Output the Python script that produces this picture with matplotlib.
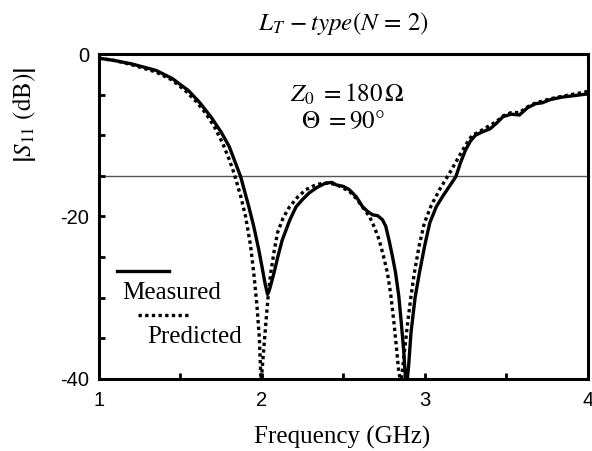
import matplotlib
matplotlib.use("Agg")
import matplotlib.pyplot as plt
from matplotlib.ticker import MultipleLocator

plt.rcParams["font.family"] = ["Liberation Serif", "DejaVu Serif"]
plt.rcParams["mathtext.fontset"] = "stix"
plt.rcParams["axes.unicode_minus"] = False

# measured |S11| (dB)
MEAS_F = [1.0, 1.1, 1.2, 1.35, 1.45, 1.55, 1.62, 1.69, 1.75, 1.80, 1.87, 1.92, 1.95, 1.98,
          2.0, 2.02, 2.035, 2.05, 2.075, 2.10, 2.125, 2.17, 2.21, 2.25, 2.29, 2.34, 2.39,
          2.43, 2.455, 2.5, 2.537, 2.58, 2.618, 2.65, 2.68, 2.71, 2.74, 2.76, 2.78, 2.80,
          2.82, 2.84, 2.855, 2.87, 2.88, 2.89, 2.90, 2.915, 2.94, 2.967, 3.0, 3.03, 3.07,
          3.11, 3.15, 3.19, 3.22, 3.25, 3.28, 3.31, 3.35, 3.40, 3.44, 3.48, 3.53, 3.58,
          3.63, 3.68, 3.72, 3.77, 3.84, 3.92, 4.0]
MEAS_DB = [-0.5, -0.8, -1.2, -2.0, -3.0, -4.5, -6.0, -7.8, -9.6, -11.4, -15.1, -18.8, -21.2, -24.0,
           -26.1, -28.3, -29.6, -28.8, -26.9, -24.8, -22.9, -20.5, -18.8, -17.9, -17.1, -16.4, -15.9,
           -15.8, -16.1, -16.3, -16.7, -17.6, -18.8, -19.4, -19.8, -19.9, -20.4, -21.2, -22.9, -24.8,
           -26.9, -29.8, -33.0, -36.5, -39.6, -40.5, -38.5, -34.3, -30.0, -26.9, -23.5, -20.8, -18.8,
           -17.5, -16.3, -15.1, -13.3, -11.8, -10.7, -10.0, -9.6, -9.2, -8.5, -7.7, -7.4, -7.5,
           -6.6, -6.1, -6.0, -5.6, -5.3, -5.1, -4.9]

# predicted |S11| (dB)
PRED_F = [1.0, 1.1, 1.2, 1.35, 1.45, 1.53, 1.60, 1.656, 1.71, 1.76, 1.80, 1.83, 1.87, 1.90,
          1.93, 1.95, 1.97, 1.985, 1.995, 2.005, 2.025, 2.04, 2.055, 2.075, 2.096, 2.13, 2.17,
          2.22, 2.27, 2.32, 2.37, 2.42, 2.47, 2.537, 2.58, 2.62, 2.66, 2.69, 2.72, 2.745, 2.77,
          2.79, 2.81, 2.825, 2.84, 2.855, 2.87, 2.895, 2.915, 2.936, 2.965, 2.997, 3.04, 3.09,
          3.15, 3.21, 3.25, 3.29, 3.33, 3.38, 3.44, 3.48, 3.53, 3.58, 3.63, 3.68, 3.72, 3.77,
          3.84, 3.92, 4.0]
PRED_DB = [-0.5, -0.8, -1.3, -2.2, -3.2, -4.5, -5.9, -7.3, -9.0, -11.0, -13.0, -14.7, -17.5, -20.0,
           -23.5, -26.9, -31.0, -35.1, -40.5, -38.0, -33.0, -29.5, -26.9, -24.3, -22.0, -20.2, -18.8,
           -17.6, -16.7, -16.2, -15.9, -15.9, -16.2, -16.9, -17.8, -18.9, -20.0, -21.3, -22.9, -24.8, -26.9,
           -29.5, -33.0, -36.0, -39.2, -40.5, -37.5, -33.0, -29.8, -26.9, -23.6, -20.8, -18.6, -16.7,
           -14.7, -12.6, -11.2, -10.0, -9.6, -9.0, -8.3, -7.6, -7.2, -7.2, -6.5, -6.0, -5.8, -5.5,
           -5.2, -4.9, -4.6]

SPEC_LEVEL = -15
X_TICKS = [1, 2, 3, 4]
Y_TICKS = [0, -20, -40]


def main():
    fig = plt.figure(figsize=(5.92, 4.51), dpi=100)
    ax = fig.add_axes([0.167, 0.160, 0.826, 0.720])

    ax.axhline(SPEC_LEVEL, color="#555555", linewidth=1.0, zorder=1)
    ax.plot(MEAS_F, MEAS_DB, color="black", linewidth=2.4, solid_joinstyle="round", zorder=3)
    ax.plot(PRED_F, PRED_DB, color="black", linewidth=2.4, linestyle=(0, (1, 1)),
            dash_capstyle="butt", zorder=2)

    ax.set_xlim(1, 4)
    ax.set_ylim(-40, 0)
    ax.set_xticks(X_TICKS)
    ax.set_yticks(Y_TICKS)
    ax.xaxis.set_minor_locator(MultipleLocator(0.5))
    ax.yaxis.set_minor_locator(MultipleLocator(5))
    ax.tick_params(which="both", direction="in", top=False, right=False, width=2, length=4)
    ax.tick_params(axis="x", which="major", pad=9)
    ax.tick_params(axis="y", which="major", pad=7)
    for label in ax.get_xticklabels() + ax.get_yticklabels():
        label.set_fontfamily("Liberation Sans")
        label.set_fontsize(14.5)
    for spine in ax.spines.values():
        spine.set_linewidth(2.2)

    # legend drawn as in the original figure: sample line above each label
    ax.plot([0.037, 0.143], [0.332, 0.332], color="black", linewidth=2.4, transform=ax.transAxes)
    ax.text(0.047, 0.246, "Measured", fontsize=18, transform=ax.transAxes, va="baseline")
    ax.plot([0.080, 0.184], [0.197, 0.197], color="black", linewidth=2.4, linestyle=(0, (1, 1)),
            dash_capstyle="butt", transform=ax.transAxes)
    ax.text(0.098, 0.111, "Predicted", fontsize=18, transform=ax.transAxes, va="baseline")

    ax.text(0.509, 0.852, r"$Z_0\ = 180\,\Omega$", fontsize=18, ha="center", va="baseline",
            transform=ax.transAxes)
    ax.text(0.499, 0.772, r"$\Theta\ = 90\degree$", fontsize=18, ha="center", va="baseline",
            transform=ax.transAxes)

    fig.text(344 / 592, 1 - 30 / 451, r"$L_T\, - type\left(N\, =\, 2\right)$", fontsize=18,
             ha="center", va="baseline")
    fig.text(342 / 592, 1 - 444 / 451, "Frequency (GHz)", fontsize=18, ha="center", va="baseline")
    fig.text(24 / 592, 1 - 115 / 451, r"$\left|S_{11}\ \mathrm{(dB)}\right|$", fontsize=18,
             rotation=90, ha="center", va="center")

    fig.savefig("out.png", dpi=100, facecolor="white")
    plt.close(fig)


if __name__ == "__main__":
    main()
